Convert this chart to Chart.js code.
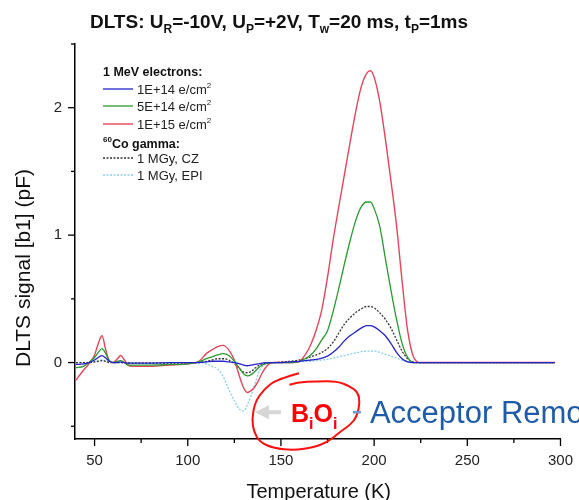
<!DOCTYPE html>
<html>
<head>
<meta charset="utf-8">
<script src="https://cdn.jsdelivr.net/npm/chart.js@4.4.1/dist/chart.umd.min.js"></script>
<style>
  html, body { margin: 0; padding: 0; background: #fff; }
  canvas { display: block; }
</style>
</head>
<body>
<canvas id="dlts" width="579" height="500"></canvas>
<script>
// temperature grid (K) shared by all spectra
const temps = [40, 44, 47, 50, 52, 54, 56, 58, 60, 62,
  64, 66, 68, 70, 80, 90, 100, 106, 110, 113,
  116, 119, 122, 125, 128, 130, 132, 134, 136, 138,
  140, 143, 146, 150, 155, 160, 163, 166, 169, 172,
  175, 178, 181, 184, 187, 190, 193, 196, 198, 200,
  203, 206, 209, 212, 215, 218, 221, 225, 240, 260,
  280, 297];

// DLTS signal b1 (pF)
const e1e14 = [-0.015, -0.01, 0.0, 0.02, 0.04, 0.055, 0.035, 0.01, 0.0, 0.0,
  0.005, 0.0, -0.005, -0.005, -0.005, 0.0, 0.0, 0.0, 0.005, 0.01,
  0.01, 0.01, 0.005, 0.0, -0.01, -0.02, -0.025, -0.02, -0.015, -0.01,
  -0.005, 0.0, 0.0, 0.0, 0.005, 0.01, 0.015, 0.02, 0.025, 0.035,
  0.05, 0.08, 0.12, 0.17, 0.21, 0.24, 0.27, 0.29, 0.29, 0.28,
  0.25, 0.21, 0.15, 0.08, 0.03, 0.005, 0.0, 0.0, 0.0, 0.0,
  0.0, 0.0];

const e5e14 = [-0.04, -0.03, 0.0, 0.04, 0.08, 0.11, 0.07, 0.015, 0.0, 0.01,
  0.015, 0.0, -0.02, -0.02, -0.02, -0.015, -0.01, 0.005, 0.03, 0.045,
  0.06, 0.07, 0.055, 0.01, -0.05, -0.09, -0.105, -0.095, -0.07, -0.04,
  -0.02, -0.005, 0.0, 0.0, 0.0, 0.01, 0.03, 0.06, 0.11, 0.18,
  0.25, 0.40, 0.58, 0.77, 0.95, 1.11, 1.22, 1.26, 1.26, 1.21,
  1.07, 0.82, 0.57, 0.34, 0.15, 0.04, 0.0, 0.0, 0.0, 0.0,
  0.0, 0.0];

const e1e15 = [-0.14, -0.06, -0.01, 0.06, 0.15, 0.21, 0.10, 0.01, 0.0, 0.025,
  0.055, 0.02, -0.02, -0.03, -0.03, -0.02, -0.01, 0.01, 0.07, 0.10,
  0.125, 0.135, 0.10, 0.02, -0.12, -0.20, -0.235, -0.22, -0.19, -0.14,
  -0.08, -0.02, 0.0, 0.0, 0.0, 0.01, 0.06, 0.14, 0.26, 0.42,
  0.67, 0.96, 1.22, 1.47, 1.72, 1.96, 2.16, 2.27, 2.29, 2.24,
  2.05, 1.76, 1.43, 1.08, 0.64, 0.25, 0.05, 0.0, 0.0, 0.0,
  0.0, 0.0];

const gammaCz = [0.0, 0.0, 0.0, 0.005, 0.01, 0.015, 0.01, 0.0, 0.0, 0.0,
  0.0, 0.0, -0.005, -0.005, -0.005, -0.005, -0.005, 0.0, 0.01, 0.02,
  0.03, 0.03, 0.02, -0.01, -0.05, -0.075, -0.08, -0.07, -0.045, -0.025,
  -0.01, 0.0, 0.0, 0.005, 0.01, 0.02, 0.03, 0.045, 0.06, 0.08,
  0.11, 0.16, 0.23, 0.30, 0.35, 0.39, 0.42, 0.44, 0.44, 0.43,
  0.39, 0.34, 0.27, 0.18, 0.09, 0.03, 0.005, 0.0, 0.0, 0.0,
  0.0, 0.0];

const gammaEpi = [0.0, 0.0, 0.0, 0.01, 0.015, 0.02, 0.015, 0.005, 0.0, 0.0,
  0.0, 0.0, 0.0, 0.0, 0.0, 0.0, 0.0, 0.0, -0.01, -0.03,
  -0.05, -0.11, -0.21, -0.30, -0.37, -0.38, -0.33, -0.26, -0.17, -0.08,
  -0.03, -0.01, 0.0, 0.0, 0.0, 0.005, 0.01, 0.01, 0.015, 0.02,
  0.025, 0.035, 0.045, 0.055, 0.065, 0.075, 0.085, 0.09, 0.09, 0.09,
  0.08, 0.065, 0.05, 0.035, 0.02, 0.01, 0.0, 0.0, 0.0, 0.0,
  0.0, 0.0];

const tempTicks = [50, 75, 100, 125, 150, 175, 200, 225, 250, 275, 300];
const signalTicks = [-0.5, 0, 0.5, 1, 1.5, 2, 2.5];

const FONT = '"Liberation Sans", Arial, sans-serif';

function pts(vals) {
  return temps.map((t, i) => ({ x: t, y: vals[i] }));
}

function line(ctx, x1, y1, x2, y2) {
  ctx.beginPath();
  ctx.moveTo(x1, y1);
  ctx.lineTo(x2, y2);
  ctx.stroke();
}

// text made of pieces, some of them sub- or superscript
function richText(ctx, parts, x, base, size, weight, align) {
  const fontFor = p => weight + ' ' + (p.sub || p.sup ? Math.round(size * 0.62) : size) + 'px ' + FONT;
  let w = 0;
  parts.forEach(p => { ctx.font = fontFor(p); w += ctx.measureText(p.t).width; });
  let cx = align === 'center' ? x - w / 2 : x;
  ctx.textAlign = 'left';
  ctx.textBaseline = 'alphabetic';
  parts.forEach(p => {
    ctx.font = fontFor(p);
    const dy = p.sub ? size * 0.28 : (p.sup ? -size * 0.42 : 0);
    ctx.fillText(p.t, cx, base + dy);
    cx += ctx.measureText(p.t).width;
  });
}

const decor = {
  id: 'decor',
  afterDraw(chart) {
    const { ctx, chartArea: a, scales: { x, y } } = chart;
    ctx.save();

    // tick marks: long for labelled, short for minor
    ctx.strokeStyle = '#000';
    ctx.lineWidth = 1.3;
    tempTicks.forEach(v => {
      const px = x.getPixelForValue(v);
      line(ctx, px, a.bottom, px, a.bottom + (v % 50 === 0 ? 7 : 4));
    });
    signalTicks.forEach(v => {
      const py = y.getPixelForValue(v);
      line(ctx, a.left - (Number.isInteger(v) ? 7 : 4), py, a.left, py);
    });

    // title
    ctx.fillStyle = '#111';
    richText(ctx, [
      { t: 'DLTS: U' }, { t: 'R', sub: true }, { t: '=-10V, U' }, { t: 'P', sub: true },
      { t: '=+2V, T' }, { t: 'w', sub: true }, { t: '=20 ms, t' }, { t: 'P', sub: true }, { t: '=1ms' }
    ], 279, 28, 19, 'bold', 'center');

    // axis titles
    ctx.fillStyle = '#111';
    ctx.font = '20px ' + FONT;
    ctx.textAlign = 'center';
    ctx.textBaseline = 'alphabetic';
    ctx.fillText('Temperature (K)', (a.left + a.right) / 2 + 1, 498);
    ctx.save();
    ctx.translate(30, 268);
    ctx.rotate(-Math.PI / 2);
    ctx.font = '21px ' + FONT;
    ctx.fillText('DLTS signal [b1] (pF)', 0, 0);
    ctx.restore();

    // legend
    const lx = a.left + 28, ty = a.top + 27;
    const ds = chart.data.datasets;
    ctx.fillStyle = '#111';
    richText(ctx, [{ t: '1 MeV electrons:' }], lx, ty + 4.5, 12.5, 'bold', 'left');
    const rowY = [ty + 18, ty + 35, ty + 53, ty + 87, ty + 104];
    [0, 1, 2, 3, 4].forEach((k, i) => {
      const d = ds[k];
      const yy = rowY[i];
      ctx.strokeStyle = d.borderColor;
      ctx.lineWidth = d.borderWidth;
      ctx.setLineDash(d.borderDash || []);
      line(ctx, lx, yy, lx + 30, yy);
      ctx.setLineDash([]);
      ctx.fillStyle = '#222';
      const parts = d.label.endsWith('e/cm2')
        ? [{ t: d.label.slice(0, -1) }, { t: '2', sup: true }]
        : [{ t: d.label }];
      richText(ctx, parts, lx + 34, yy + 4.5, 13, 'normal', 'left');
    });
    ctx.fillStyle = '#111';
    richText(ctx, [{ t: '60', sup: true }, { t: 'Co gamma:' }], lx, ty + 72 + 4.5, 12.5, 'bold', 'left');

    // BiOi annotation
    const ox = x.getPixelForValue(150), oy = y.getPixelForValue(-0.39);
    ctx.strokeStyle = '#ff1010';
    ctx.lineWidth = 2;
    const loop = [[18, -39], [-4, -33], [-17, -23], [-26, -10], [-29, 7], [-27, 20], [-21, 30],
      [-7, 36], [13, 38], [33, 35], [46, 30], [54, 24], [60, 19], [70, 12], [76, 4], [79, -10],
      [77, -20], [69, -26], [56, -31], [36, -31], [16, -30], [1, -25]];
    ctx.beginPath();
    ctx.moveTo(ox + loop[0][0], oy + loop[0][1]);
    for (let i = 1; i < loop.length - 1; i++) {
      const mx = (loop[i][0] + loop[i + 1][0]) / 2, my = (loop[i][1] + loop[i + 1][1]) / 2;
      ctx.quadraticCurveTo(ox + loop[i][0], oy + loop[i][1], ox + mx, oy + my);
    }
    ctx.stroke();

    // grey arrow
    ctx.fillStyle = '#d6d6d6';
    ctx.fillRect(ox - 12, oy - 2, 12, 4);
    ctx.beginPath();
    ctx.moveTo(ox - 26, oy);
    ctx.lineTo(ox - 12, oy - 7);
    ctx.lineTo(ox - 12, oy + 7);
    ctx.closePath();
    ctx.fill();

    ctx.fillStyle = '#ff0000';
    richText(ctx, [{ t: 'B' }, { t: 'i', sub: true }, { t: 'O' }, { t: 'i', sub: true }],
      ox + 10, oy + 10, 25, 'bold', 'left');

    ctx.strokeStyle = '#6d9bd1';
    ctx.lineWidth = 2.5;
    line(ctx, ox + 72, oy, ox + 80, oy);
    ctx.fillStyle = '#1f5ba8';
    ctx.font = '31px ' + FONT;
    ctx.textAlign = 'left';
    ctx.fillText('Acceptor Removal', ox + 89, oy + 11);

    ctx.restore();
  }
};

const tickFont = { family: FONT, size: 15 };

new Chart(document.getElementById('dlts'), {
  type: 'line',
  data: {
    datasets: [
      { label: '1E+14 e/cm2', data: pts(e1e14), borderColor: '#2424c8', borderWidth: 1.3 },
      { label: '5E+14 e/cm2', data: pts(e5e14), borderColor: '#2a9a30', borderWidth: 1.3 },
      { label: '1E+15 e/cm2', data: pts(e1e15), borderColor: '#e5455a', borderWidth: 1.4 },
      { label: '1 MGy, CZ', data: pts(gammaCz), borderColor: '#333333', borderWidth: 1.3, borderDash: [2, 1.5] },
      { label: '1 MGy, EPI', data: pts(gammaEpi), borderColor: '#8ccfe6', borderWidth: 1.3, borderDash: [2, 1.5] }
    ]
  },
  options: {
    responsive: false,
    animation: false,
    devicePixelRatio: 1,
    layout: { padding: { left: 0, right: 12, top: 44, bottom: 0 } },
    elements: {
      point: { radius: 0 },
      line: { cubicInterpolationMode: 'monotone', fill: false }
    },
    plugins: {
      legend: { display: false },
      title: { display: false },
      tooltip: { enabled: false }
    },
    scales: {
      x: {
        type: 'linear',
        min: 39.5,
        max: 300,
        afterBuildTicks: s => { s.ticks = tempTicks.map(v => ({ value: v })); },
        afterFit: s => { s.height = 61; },
        ticks: {
          autoSkip: false,
          maxRotation: 0,
          padding: 6,
          color: '#222',
          font: tickFont,
          callback: v => (v % 50 === 0 ? String(v) : '')
        },
        grid: { drawOnChartArea: false, tickLength: 7, tickColor: 'rgba(0,0,0,0)' },
        border: { color: '#000', width: 1.5 }
      },
      y: {
        min: -0.6,
        max: 2.5,
        afterBuildTicks: s => { s.ticks = signalTicks.map(v => ({ value: v })); },
        afterFit: s => { s.width = 75; },
        ticks: {
          autoSkip: false,
          padding: 6,
          color: '#222',
          font: tickFont,
          callback: v => (Number.isInteger(v) ? String(v) : '')
        },
        grid: { drawOnChartArea: false, tickLength: 7, tickColor: 'rgba(0,0,0,0)' },
        border: { color: '#000', width: 1.5 }
      }
    }
  },
  plugins: [decor]
});
</script>
</body>
</html>
